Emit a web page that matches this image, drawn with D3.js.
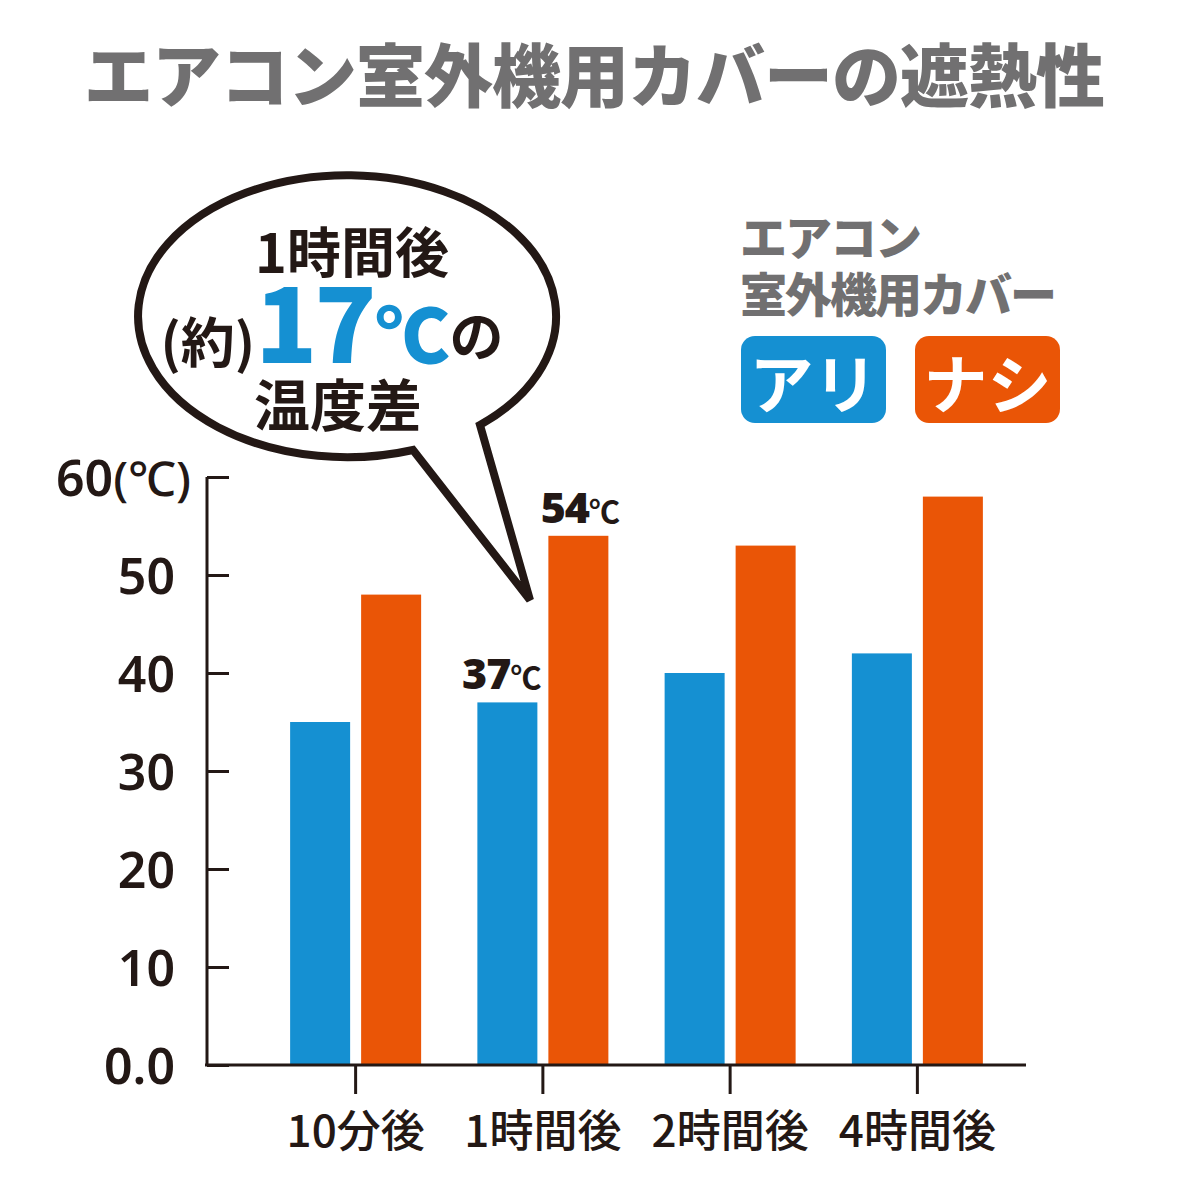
<!DOCTYPE html>
<html>
<head>
<meta charset="utf-8">
<script src="https://cdn.jsdelivr.net/npm/d3@7"></script>
<style>
  body { margin: 0; background: #fff; }
  svg { display: block; }
</style>
</head>
<body>
<svg id="chart"></svg>
<script>
// データ
const categories = ["10分後", "1時間後", "2時間後", "4時間後"];
const seriesNames = ["アリ", "ナシ"];
const withCover = [35, 37, 40, 42];      // カバー アリ
const withoutCover = [48, 54, 53, 58];   // カバー ナシ
const yTicks = [0, 10, 20, 30, 40, 50, 60];
const yTickLabels = ["0.0", "10", "20", "30", "40", "50", "60"];
const labeledCategory = "1時間後";

const title = "エアコン室外機用カバーの遮熱性";
const legendTitle = ["エアコン", "室外機用カバー"];

const BLUE = "#1590d2";
const ORANGE = "#ea5506";
const GRAY = "#717071";
const INK = "#231815";
const JP = "'Noto Sans CJK JP', sans-serif";
const NUM = "'Noto Sans', 'Noto Sans CJK JP', sans-serif";

const width = 1178, height = 1200;
const svg = d3.select("#chart")
  .attr("width", width)
  .attr("height", height);

svg.append("rect").attr("width", width).attr("height", height).attr("fill", "#fff");

// スケール
const x = d3.scaleBand()
  .domain(categories)
  .range([262, 1011])
  .paddingInner(0)
  .paddingOuter(0);

const xSub = d3.scaleBand()
  .domain(seriesNames)
  .range([-65.5, 65.5])
  .paddingInner(11 / 71);

const y = d3.scaleLinear()
  .domain([0, 60])
  .range([1065, 477]);

const color = d3.scaleOrdinal().domain(seriesNames).range([BLUE, ORANGE]);

const rows = categories.map((c, i) => ({
  category: c,
  values: [
    { series: seriesNames[0], value: withCover[i] },
    { series: seriesNames[1], value: withoutCover[i] }
  ]
}));

// タイトル
svg.append("text")
  .attr("x", 594)
  .attr("y", 102)
  .attr("text-anchor", "middle")
  .attr("font-family", JP)
  .attr("font-weight", 900)
  .attr("font-size", 69)
  .attr("letter-spacing", -1)
  .attr("fill", GRAY)
  .text(title);

// 吹き出し
const bubble = { cx: 350, cy: 315, rx: 209, ry: 141 };
const baseL = [413, 450], baseR = [480, 425], tip = [530, 600];
svg.append("path")
  .attr("d", `M${baseR} L${tip} L${baseL} A${bubble.rx} ${bubble.ry} 0 1 1 ${baseR} Z`)
  .attr("fill", "#fff")
  .attr("stroke", INK)
  .attr("stroke-width", 8)
  .attr("stroke-linejoin", "miter");

const idx = categories.indexOf(labeledCategory);
const diff = withoutCover[idx] - withCover[idx];

svg.append("text")
  .attr("x", 352).attr("y", 273)
  .attr("text-anchor", "middle")
  .attr("font-family", JP).attr("font-weight", 700).attr("font-size", 54)
  .attr("fill", INK)
  .text(labeledCategory);

const mid = svg.append("text")
  .attr("x", 332).attr("y", 363)
  .attr("text-anchor", "middle")
  .attr("font-family", JP).attr("font-weight", 700)
  .attr("fill", INK);
mid.append("tspan").attr("font-size", 54).text("(約)");
mid.append("tspan").attr("font-size", 102).attr("font-weight", 900).attr("fill", BLUE)
  .attr("letter-spacing", -3).text(diff);
mid.append("tspan").attr("font-size", 74).attr("font-weight", 900).attr("fill", BLUE)
  .attr("dx", 2).text("℃");
mid.append("tspan").attr("font-size", 54).attr("dy", -6).text("の");

svg.append("text")
  .attr("x", 338).attr("y", 426)
  .attr("text-anchor", "middle")
  .attr("font-family", JP).attr("font-weight", 700).attr("font-size", 56)
  .attr("fill", INK)
  .text("温度差");

// 凡例
legendTitle.forEach((t, i) => {
  svg.append("text")
    .attr("x", 740).attr("y", 255 + i * 57)
    .attr("font-family", JP).attr("font-weight", 900).attr("font-size", 47)
    .attr("letter-spacing", -2)
    .attr("fill", GRAY)
    .text(t);
});

const legend = svg.append("g")
  .selectAll("g")
  .data(seriesNames)
  .join("g")
  .attr("transform", (d, i) => `translate(${741 + i * 174},336)`);

legend.append("rect")
  .attr("width", 145).attr("height", 87).attr("rx", 14)
  .attr("fill", d => color(d));

legend.append("text")
  .attr("x", 72.5).attr("y", 72)
  .attr("text-anchor", "middle")
  .attr("font-family", JP).attr("font-weight", 700).attr("font-size", 64)
  .attr("fill", "#fff")
  .text(d => d);

// 棒
const groups = svg.append("g")
  .selectAll("g")
  .data(rows)
  .join("g")
  .attr("transform", d => `translate(${x(d.category) + x.bandwidth() / 2},0)`);

groups.selectAll("rect")
  .data(d => d.values)
  .join("rect")
  .attr("x", d => xSub(d.series))
  .attr("width", xSub.bandwidth())
  .attr("y", d => y(d.value))
  .attr("height", d => y(0) - y(d.value))
  .attr("fill", d => color(d.series));

// 値ラベル（1時間後のみ）
const valueLabels = groups.filter(d => d.category === labeledCategory)
  .selectAll("text")
  .data(d => d.values)
  .join("text")
  .attr("x", d => d.series === seriesNames[0] ? xSub(d.series) + xSub.bandwidth() : xSub(d.series) + xSub.bandwidth() / 2)
  .attr("y", d => y(d.value) - 13)
  .attr("text-anchor", d => d.series === seriesNames[0] ? "end" : "middle")
  .attr("font-family", NUM).attr("font-weight", 900).attr("font-size", 43)
  .attr("fill", INK);
valueLabels.append("tspan").attr("letter-spacing", -1).text(d => d.value);
valueLabels.append("tspan").attr("font-family", JP).attr("font-weight", 700)
  .attr("font-size", 31).attr("letter-spacing", -4).text("℃");

// Y軸
const yAxis = svg.append("g")
  .attr("transform", `translate(207,0)`)
  .call(d3.axisLeft(y)
    .tickValues(yTicks)
    .tickSize(-22)
    .tickPadding(32)
    .tickFormat((d, i) => yTickLabels[i]));

yAxis.select(".domain")
  .attr("d", `M0,${y(60)}V${y(0)}`)
  .attr("stroke", INK).attr("stroke-width", 3);
yAxis.selectAll(".tick line").attr("stroke", INK).attr("stroke-width", 3);
yAxis.selectAll(".tick text")
  .attr("font-family", NUM).attr("font-weight", 600).attr("font-size", 50)
  .attr("fill", INK)
  .attr("dy", "0.36em");
yAxis.selectAll(".tick").filter(d => d === 60).select("text")
  .attr("x", -16)
  .call(t => t.append("tspan").attr("font-size", 48).attr("font-weight", 500).text("(℃)"));

// X軸
const xAxis = svg.append("g")
  .attr("transform", `translate(0,${y(0)})`)
  .call(d3.axisBottom(x).tickSize(29).tickPadding(22));

xAxis.select(".domain")
  .attr("d", `M205,0H1026`)
  .attr("stroke", INK).attr("stroke-width", 3);
xAxis.selectAll(".tick line").attr("stroke", INK).attr("stroke-width", 3);
xAxis.selectAll(".tick text")
  .attr("font-family", JP).attr("font-weight", 500).attr("font-size", 44)
  .attr("fill", INK);
</script>
</body>
</html>
